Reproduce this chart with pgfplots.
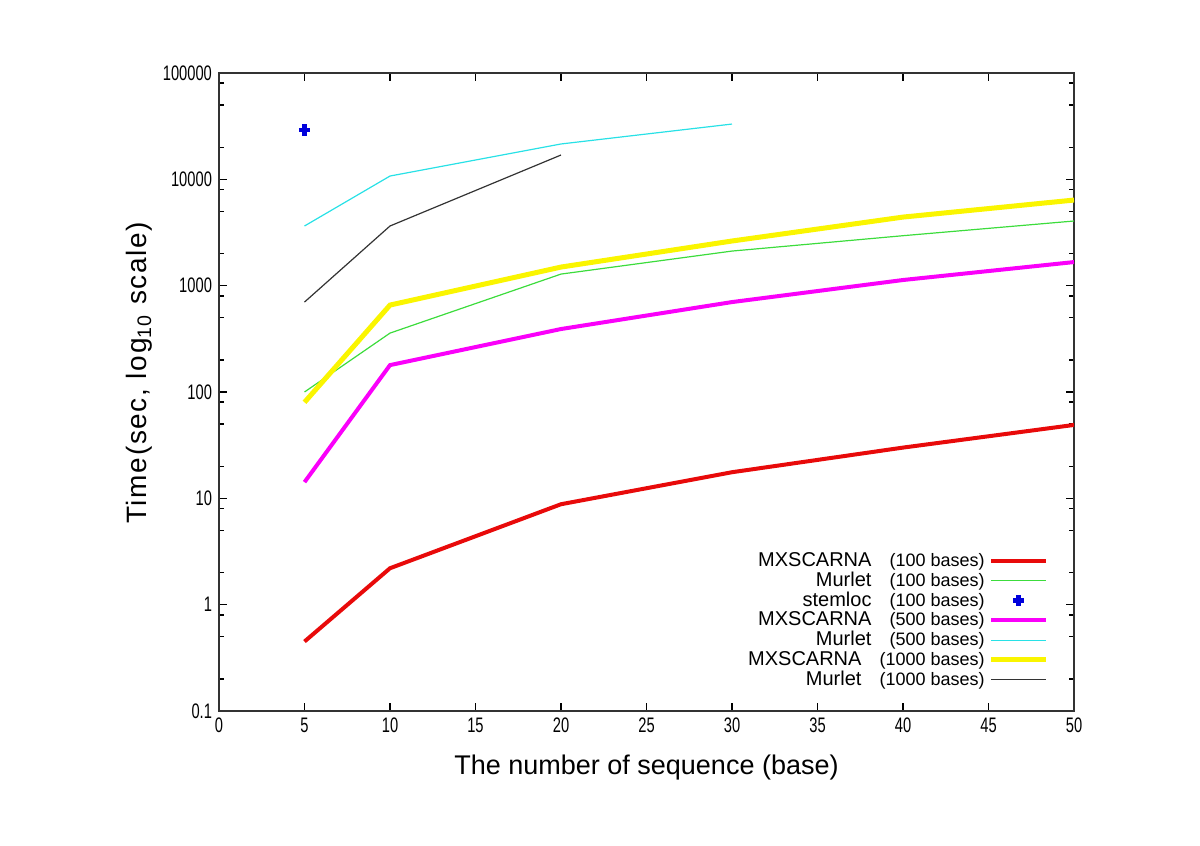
\documentclass[border=0pt]{standalone}
\usepackage{fontspec}
\setmainfont{Liberation Sans}
\newfontfamily\tickfont[FakeStretch=0.7]{Liberation Sans}
\newfontfamily\labfont[LetterSpace=6]{Liberation Sans}
\usepackage{pgfplots}
\pgfplotsset{compat=1.18}

\definecolor{cred}{RGB}{232,10,10}
\definecolor{cgreen}{RGB}{60,220,60}
\definecolor{cblue}{RGB}{0,0,220}
\definecolor{cmag}{RGB}{250,0,250}
\definecolor{ccyan}{RGB}{40,225,230}
\definecolor{cyel}{RGB}{250,245,0}

\pgfplotsset{
  lineleg/.style={legend image code/.code={\draw[##1] (0cm,0cm) -- (0.97cm,0cm);}},
  markleg/.style={legend image code/.code={\draw[##1] plot coordinates {(0.485cm,0cm)};}},
}
\newcommand{\nm}[1]{{\fontsize{10}{12}\selectfont #1}}

\begin{document}
\begin{tikzpicture}
  \begin{axis}[
    scale only axis,
    width=427.5pt, height=319pt,
    at={(109.5pt,67.5pt)}, anchor=south west,
    ymode=log,
    xmin=0, xmax=50, ymin=0.1, ymax=100000,
    xtick={0,5,...,50},
    ytick={0.1,1,10,100,1000,10000,100000},
    yticklabels={0.1,1,10,100,1000,10000,100000},
    minor ytick={0.2,0.5,0.8,2,5,8,20,50,80,200,500,800,2000,5000,8000,20000,50000,80000},
    tick align=inside,
    major tick length=4pt, minor tick length=2.5pt,
    axis line style={black!80, line width=0.8pt},
    every tick/.style={black, line width=0.8pt},
    tick label style={font=\tickfont\fontsize{10.5}{12}\selectfont},
    /pgf/number format/assume math mode=true,
    xlabel={The number of sequence (base)},
    ylabel={\labfont Time(sec, log\textsubscript{10} scale)},
    label style={font=\fontsize{13.5}{16}\selectfont},
    xlabel style={yshift=-4pt},
    ylabel style={at={(axis description cs:-0.093,0.53)}, anchor=center,
      font=\fontsize{14}{16}\selectfont},
    legend plot pos=right,
    legend cell align=right,
    lineleg,
    legend style={draw=none, fill=none, at={(0.978,0.022)}, anchor=south east,
      font=\fontsize{9}{10}\selectfont, row sep=-2.7pt},
  ]
    \addplot[cred, line width=2pt] coordinates {
      (5,0.45) (10,2.2) (20,8.8) (30,17.6) (40,30) (50,49)};
    \addlegendentry{\nm{MXSCARNA}\quad(100 bases)}
    \addplot[cgreen, line width=0.6pt] coordinates {
      (5,100) (10,358) (20,1285) (30,2115) (40,2950) (50,4055)};
    \addlegendentry{\nm{Murlet}\quad(100 bases)}
    \addplot[only marks, cblue, mark=+, mark size=2.8pt, mark options={line width=2.2pt},
      markleg] coordinates {
      (5,29100)};
    \addlegendentry{\nm{stemloc}\quad(100 bases)}
    \addplot[cmag, line width=2pt] coordinates {
      (5,14.2) (10,179) (20,391) (30,701) (40,1130) (50,1667)};
    \addlegendentry{\nm{MXSCARNA}\quad(500 bases)}
    \addplot[ccyan, line width=0.6pt] coordinates {
      (5,3640) (10,10740) (20,21500) (30,33100)};
    \addlegendentry{\nm{Murlet}\quad(500 bases)}
    \addplot[cyel, line width=2.5pt] coordinates {
      (5,80) (10,657) (20,1496) (30,2630) (40,4415) (50,6385)};
    \addlegendentry{\nm{MXSCARNA}\quad(1000 bases)}
    \addplot[black!80, line width=0.6pt] coordinates {
      (5,701) (10,3640) (20,16930)};
    \addlegendentry{\nm{Murlet}\quad(1000 bases)}
  \end{axis}
  \pgfresetboundingbox
  \path (0,0) rectangle (600pt,423pt);
\end{tikzpicture}
\end{document}
